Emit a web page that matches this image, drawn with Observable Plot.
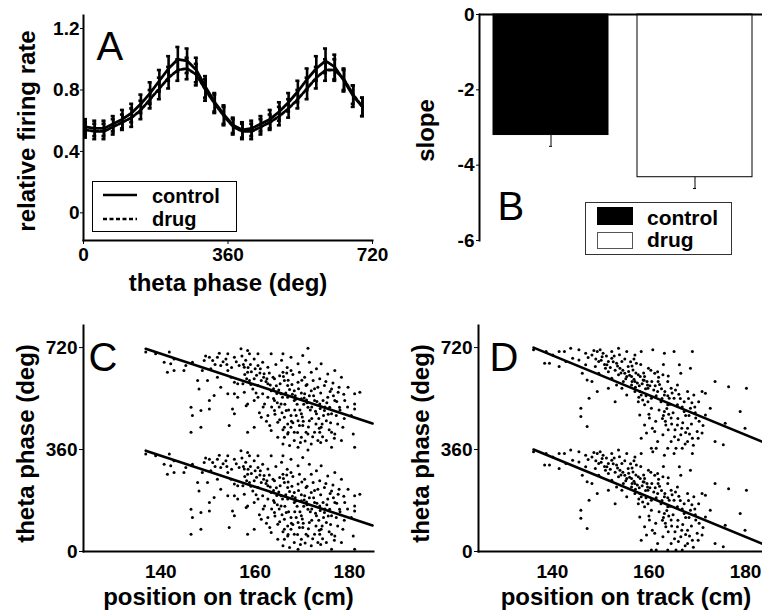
<!DOCTYPE html>
<html><head><meta charset="utf-8">
<script src="https://cdn.jsdelivr.net/npm/d3@7"></script>
<script src="https://cdn.jsdelivr.net/npm/@observablehq/plot@0.6"></script>
<style>
body{margin:0;background:#fff;}
#fig{position:relative;width:762px;height:615px;overflow:hidden;background:#fff;font-family:"Liberation Sans",Arial,sans-serif;color:#000;}
#fig svg.panel{position:absolute;overflow:visible;background:transparent;}
.legend{position:absolute;border:1px solid #000;background:#fff;font-weight:bold;font-size:20px;line-height:20px;}
.legend span{position:absolute;white-space:nowrap;}
.sw{position:absolute;box-sizing:border-box;}
</style></head><body><div id="fig"></div>
<script>
// ---------- Panel A: phase tuning ----------
const phaseBins = [5,28,51,74,97,120,143,166,189,212,235,258,281,304,327,350,373,396,419,442,465,488,511,534,557,580,603,626,649,672,695];
const controlRate = [0.56,0.55,0.55,0.58,0.61,0.65,0.71,0.78,0.86,0.94,1.00,0.99,0.93,0.82,0.72,0.64,0.57,0.54,0.55,0.58,0.61,0.66,0.72,0.79,0.87,0.94,0.99,0.95,0.86,0.76,0.69];
const controlErr  = [0.05,0.05,0.05,0.05,0.06,0.06,0.06,0.07,0.07,0.08,0.08,0.08,0.08,0.07,0.06,0.06,0.05,0.05,0.05,0.05,0.06,0.06,0.06,0.07,0.07,0.08,0.08,0.08,0.07,0.07,0.06];
const drugRate    = [0.54,0.53,0.53,0.56,0.59,0.62,0.67,0.74,0.81,0.88,0.93,0.94,0.90,0.80,0.71,0.63,0.56,0.53,0.53,0.56,0.59,0.63,0.68,0.74,0.81,0.88,0.93,0.93,0.87,0.77,0.69];
const drugErr     = [0.05,0.05,0.05,0.05,0.05,0.06,0.06,0.06,0.07,0.07,0.07,0.07,0.07,0.07,0.06,0.06,0.05,0.05,0.05,0.05,0.05,0.06,0.06,0.06,0.07,0.07,0.07,0.07,0.07,0.06,0.06];
const phaseTicksA = [0,360,720];
const rateTicks = [0,0.4,0.8,1.2];

// ---------- Panel B: slopes ----------
const groups = ["control","drug"];
const slopeMean = [-3.2,-4.32];
const slopeErr = [0.3,0.3];
const slopeTicks = [0,-2,-4,-6];

// ---------- Panels C / D: phase precession (base phase, drawn twice: +0 and +360) ----------
const controlSpikes = [
[136.8,344],[138.9,338],[141.8,344],[140.7,308],[142.1,303],[142.8,279],[141.4,273],[144.9,279],[146.7,308],[147.8,244],[148.1,214],[146.4,149],[146.7,120],[148.5,138],[150.3,143],[146.4,61],[148.5,79],[150.3,173],[149.2,314],[150.3,326],[151.0,314],[152.0,326],[152.7,297],[153.8,320],[154.2,279],[154.9,255],[155.6,238],[155.6,197],[155.2,143],[155.6,126],[154.5,85],[156.3,232],[156.6,297],[157.7,291],[158.4,273],[158.8,338],[159.8,320],[160.6,297],[161.6,308],[162.7,291],[158.8,244],[159.8,250],[157.7,202],[158.4,161],[158.1,155],[161.3,244],[162.7,232],[164.1,250],[165.2,261],[165.9,273],[166.2,244],[163.4,208],[161.6,197],[160.6,185],[159.8,173],[162.0,161],[164.1,173],[165.5,161],[166.9,185],[168.3,208],[166.9,226],[169.1,238],[170.5,255],[171.9,273],[173.0,285],[174.0,303],[175.4,267],[176.9,279],[178.3,255],[179.7,220],[181.1,197],[182.2,202],[181.1,161],[181.1,143],[180.8,55],[181.1,8],[178.6,79],[178.3,32],[176.9,55],[176.2,126],[174.7,138],[173.7,161],[172.6,173],[171.2,149],[169.8,126],[169.1,102],[167.6,79],[166.9,55],[168.3,32],[169.8,43],[171.2,55],[172.6,61],[174.0,79],[175.1,32],[176.2,8],[171.9,20],[173.3,32],[167.6,120],[166.6,138],[166.2,114],[166.9,90],[168.3,173],[169.8,179],[170.5,197],[171.9,208],[173.3,220],[174.7,226],[176.2,214],[177.6,202],[179.0,173],[176.9,173],[175.4,185],[165.5,197],[164.1,138],[162.7,120],[161.3,114],[159.8,79],[158.4,61],[163.4,67],[164.8,43],[165.9,20],[167.3,14],[169.1,8],[164.8,96],[166.2,79],[162.7,185],[160.6,226],[159.5,214],[157.4,232],[156.3,185],[155.6,326],[154.2,338],[157.0,356],[158.4,350],[160.6,338],[163.4,338],[165.9,338],[167.6,326],[170.1,332],[171.2,358],[169.1,303],[171.5,308],[173.7,250],[167.6,279],[169.4,273],[170.8,226],[172.3,244],[174.4,173],[175.8,149],[177.2,120],[177.9,149],[173.0,126],[171.5,102],[170.1,85],[170.8,61],[173.7,61],[175.1,102],[176.2,61],[168.3,61],[166.2,43],[152.0,255],[152.7,220],[154.2,197],[151.3,191],[149.9,244],[148.8,279],[145.3,297],[142.8,320],
[163.0,270],[163.8,255],[164.5,225],[165.0,210],[165.8,185],[166.5,200],[167.0,245],[167.8,230],[168.5,190],[168.9,160],[169.5,140],[170.0,115],[170.3,160],[170.9,175],[171.5,190],[172.0,150],[172.8,135],[173.5,110],[174.2,90],[174.8,150],[175.5,125],[176.0,95],[163.5,150],[164.2,125],[165.2,105],[165.9,70],[167.0,60],[168.0,95],[168.7,120],[169.4,85],[170.6,30],[172.2,45],[173.9,25],[161.0,270],[161.8,255],[162.3,240],[160.0,285],[159.0,300],[158.0,315],[157.2,330],[156.0,310],[155.0,290],[154.0,300],[153.2,310],[152.4,340],[151.5,300],[150.6,285],[149.5,330],[164.4,300],[165.6,315],[166.8,290],[168.0,265],[169.9,245],[171.0,230],[172.6,215],[173.9,200],[175.0,240],[176.5,235],[177.8,220],[178.8,195],
[157.5,300],[158.5,290],[159.2,275],[160.3,262],[161.1,285],[161.9,268],[162.5,250],[163.2,228],[163.9,215],[164.6,198],[165.3,232],[166.0,258],[166.7,270],[167.3,212],[167.9,195],[168.6,178],[169.2,215],[169.8,200],[170.4,182],[171.0,165],[171.7,140],[172.4,190],[173.1,170],[173.8,145],[174.5,120],[175.2,165],[175.9,205],[176.6,190],[177.3,170],[178.0,140],[165.1,150],[165.7,130],[166.3,160],[167.1,140],[167.7,100],[168.4,140],[169.0,60],[169.6,25],[170.2,100],[171.3,80],[172.0,110],[172.9,90],[173.6,75],[174.3,45],[175.7,70],[176.8,40],[177.5,90],[178.9,110],[179.6,150],[180.4,120],[160.9,130],[161.7,150],[162.4,100],[163.1,85],[163.9,180],[164.7,165],[160.2,200],[159.1,230],[158.2,250],[157.8,265]
];
const drugSpikes = [
[136.1,352],[138.7,346],[140.1,334],[138.4,305],[139.4,305],[141.4,346],[142.5,346],[143.8,358],[145.5,352],[146.9,340],[148.2,334],[149.3,346],[149.9,352],[152.3,346],[153.7,358],[155.4,346],[157.1,334],[158.4,346],[160.8,352],[163.2,340],[165.2,346],[169.0,346],[166.3,299],[166.6,269],[168.6,287],[146.9,299],[146.2,269],[147.2,246],[148.2,240],[147.6,181],[145.9,146],[145.9,117],[147.2,81],[149.3,205],[149.6,269],[151.0,287],[151.6,311],[152.3,322],[153.3,305],[154.0,287],[155.0,269],[155.7,293],[156.7,281],[157.8,264],[158.8,246],[159.8,216],[161.2,269],[161.8,275],[162.9,264],[163.9,240],[164.6,216],[165.9,228],[165.2,181],[163.9,158],[163.2,134],[164.6,111],[165.9,87],[167.3,134],[168.0,75],[169.0,40],[170.0,64],[171.0,58],[171.7,122],[170.3,169],[169.3,193],[168.0,205],[171.0,205],[171.7,199],[173.7,240],[176.5,222],[180.2,216],[172.7,146],[173.7,28],[175.4,17],[175.8,93],[178.9,134],[179.9,75],[158.4,193],[159.1,158],[160.1,111],[161.2,64],[161.8,28],[160.5,5],[158.4,40],[158.1,122],[159.1,87],[162.9,52],[164.6,28],[165.6,5],[166.9,5],[163.5,87],[162.5,169],[160.5,181],[156.4,228],[155.4,193],[157.1,205],[154.4,216],[153.3,228],[152.3,252],[151.6,216],[153.0,169],[153.7,264],[154.7,240],[159.1,258],[159.9,287],[156.4,258],[157.1,240],[158.1,205],[161.8,205],[163.2,193],[164.2,181],[165.9,158],[167.3,169],[168.6,146],[169.7,111],[168.0,28],[166.6,52],[163.9,5],[161.5,5],[159.5,58],[160.5,146],[157.8,169],[149.6,311],[150.3,328],[151.3,299],[145.5,316],[144.2,322],[142.8,311],[141.4,293],[148.9,293],[151.6,275],[154.4,311],[155.4,258],[157.4,305],[159.8,169],
[150.8,300],[152.0,290],[153.0,280],[154.2,270],[155.2,250],[156.0,262],[156.9,248],[157.6,235],[158.0,225],[158.6,232],[159.3,215],[159.6,240],[160.2,225],[161.0,210],[161.5,190],[162.2,230],[162.7,180],[163.0,120],[163.4,100],[163.7,145],[164.0,70],[164.4,160],[165.0,130],[165.3,45],[166.0,110],[166.5,180],[167.0,95],[167.6,60],[168.3,120],[168.8,90],[169.5,150],[170.2,40],[158.9,270],[160.4,280],[162.0,255],[163.0,300],[164.0,260],[149.0,320],[150.5,340],[152.8,330],[155.0,320],[156.2,310],
[151.2,330],[152.6,310],[153.5,295],[154.6,280],[155.8,276],[156.5,295],[157.3,270],[158.2,258],[159.0,245],[159.7,228],[160.6,240],[161.3,225],[161.9,240],[162.6,215],[163.3,205],[163.9,190],[164.8,200],[165.5,210],[166.2,195],[166.9,150],[167.6,120],[168.2,180],[168.9,165],[169.6,130],[170.4,100],[171.2,85],[164.1,125],[164.7,90],[165.4,70],[166.1,35],[166.8,75],[167.5,20],[168.4,55],[169.2,15],[162.1,140],[162.8,110],[161.4,100],[160.7,75],[160.0,125],[159.4,190],[158.7,175],[157.9,185],[157.2,220],[156.5,240],[148.6,350],[147.4,325],[150.1,315],[153.9,335],[156.9,320],[158.3,300]
];
const controlFitPos = [136.8,184.9];
const controlFitPhase = [716,452];
const drugFitPos = [136.1,185.8];
const drugFitPhase = [720,371];
const posTicks = [140,160,180];
const phaseTicks = [0,360,720];

// ---------- helpers ----------
const FONT = '"Liberation Sans", Arial, sans-serif';
const baseStyle = `font-family:${FONT};font-size:19px;font-weight:bold;color:#000;background:transparent;overflow:visible;`;
const fig = document.getElementById("fig");
function place(svg, left, top) {
  svg.classList.add("panel");
  svg.style.left = left + "px";
  svg.style.top = top + "px";
  svg.style.maxWidth = "none";
  fig.appendChild(svg);
}
const yTitle = {fontSize: 24, fontWeight: "bold", fill: "black", frameAnchor: "left", rotate: -90, textAnchor: "middle", lineAnchor: "middle"};
const xTitle = {fontSize: 24, fontWeight: "bold", fill: "black", frameAnchor: "bottom", textAnchor: "middle", lineAnchor: "middle"};
const panelLetter = {fontSize: 40, fontWeight: "normal", fill: "black", textAnchor: "start", lineAnchor: "top", frameAnchor: "top-left"};

// ---------- Panel A ----------
const rowsA = phaseBins.map((t, i) => ({theta: t, control: controlRate[i], cErr: controlErr[i], drug: drugRate[i], dErr: drugErr[i]}));
const cap = 5;
function errMarks(key, errKey) {
  return [
    Plot.ruleX(rowsA, {x: "theta", y1: d => d[key] - d[errKey], y2: d => d[key] + d[errKey], strokeWidth: 2.6}),
    Plot.ruleY(rowsA, {y: d => d[key] + d[errKey], x1: d => d.theta - cap, x2: d => d.theta + cap, strokeWidth: 2.6}),
    Plot.ruleY(rowsA, {y: d => d[key] - d[errKey], x1: d => d.theta - cap, x2: d => d.theta + cap, strokeWidth: 2.6})
  ];
}
const plotA = Plot.plot({
  width: 380, height: 300,
  marginLeft: 83, marginRight: 8, marginTop: 15, marginBottom: 60,
  style: baseStyle,
  x: {domain: [0, 720], ticks: phaseTicksA, tickFormat: d => String(d), tickSize: 4, tickPadding: 3, label: null},
  y: {domain: [-0.18, 1.285], ticks: rateTicks, tickFormat: d => d === 0 ? "0" : d.toFixed(1), tickSize: 3, tickPadding: 1, label: null},
  marks: [
    Plot.frame({anchor: "left", strokeWidth: 2}),
    Plot.frame({anchor: "bottom", strokeWidth: 2}),
    ...errMarks("drug", "dErr"),
    ...errMarks("control", "cErr"),
    Plot.line(rowsA, {x: "theta", y: "drug", strokeWidth: 2.8, strokeDasharray: "3,2"}),
    Plot.line(rowsA, {x: "theta", y: "control", strokeWidth: 2.8}),
    Plot.text(["relative firing rate"], {...yTitle, dx: -56, dy: 3}),
    Plot.text(["theta phase (deg)"], {...xTitle, dy: 43}),
    Plot.text(["A"], {...panelLetter, dx: 13, dy: 16})
  ]
});
place(plotA, 0, 0);

// ---------- Panel B ----------
const rowsB = groups.map((g, i) => ({group: g, slope: slopeMean[i], err: slopeErr[i]}));
const plotB = Plot.plot({
  width: 376, height: 280,
  marginLeft: 89, marginRight: 0, marginTop: 14, marginBottom: 40,
  style: baseStyle,
  x: {domain: groups, paddingInner: 0.2, paddingOuter: 0.09, axis: null},
  y: {domain: [-6, 0], ticks: slopeTicks, tickFormat: d => String(d), tickSize: 3, tickPadding: 2, label: null},
  color: {domain: groups, range: ["black", "white"]},
  marks: [
    Plot.barY(rowsB, {x: "group", y: "slope", fill: "group", stroke: "black", strokeWidth: 1}),
    Plot.ruleX(rowsB, {x: "group", y1: "slope", y2: d => d.slope - d.err, strokeWidth: 1}),
    Plot.tickY(rowsB, {x: "group", y: d => d.slope - d.err, insetLeft: 56, insetRight: 56, strokeWidth: 1}),
    Plot.ruleY([0], {strokeWidth: 2}),
    Plot.frame({anchor: "left", strokeWidth: 2}),
    Plot.text(["slope"], {...yTitle, dx: -53, dy: 3}),
    Plot.text(["B"], {...panelLetter, dx: 18, dy: 177})
  ]
});
place(plotB, 390, 0);

// ---------- Panels C and D ----------
function precession(spikes, fitPos, fitPhase, xDomain, letter, letterDx) {
  const fit = fitPos.map((p, i) => ({pos: p, phase: fitPhase[i]}));
  return Plot.plot({
    width: letter === "C" ? 380 : 390, height: 315,
    marginLeft: letter === "C" ? 83 : 88, marginRight: 7, marginTop: 25, marginBottom: 64,
    style: baseStyle,
    x: {domain: xDomain, ticks: posTicks, tickSize: 0, tickPadding: 13, label: null},
    y: {domain: [0, 798], ticks: phaseTicks, tickFormat: d => String(d), tickSize: 4, tickPadding: 2, label: null},
    marks: [
      Plot.dot(spikes, {x: d => d[0], y: d => d[1], r: 1.5, fill: "black", stroke: null}),
      Plot.dot(spikes, {x: d => d[0], y: d => d[1] + 360, r: 1.5, fill: "black", stroke: null}),
      Plot.line(fit, {x: "pos", y: "phase", strokeWidth: 2.6}),
      Plot.line(fit, {x: "pos", y: d => d.phase - 360, strokeWidth: 2.6}),
      Plot.frame({anchor: "left", strokeWidth: 2}),
      Plot.frame({anchor: "bottom", strokeWidth: 2}),
      Plot.text(["theta phase (deg)"], {...yTitle, dx: -57, dy: 5}),
      Plot.text(["position on track (cm)"], {...xTitle, dy: 46}),
      Plot.text([letter], {...panelLetter, dx: letterDx, dy: 17})
    ]
  });
}
place(precession(controlSpikes, controlFitPos, controlFitPhase, [123.6, 185.1], "C", 5), 0, 300);
place(precession(drugSpikes, drugFitPos, drugFitPhase, [124.7, 185.8], "D", 11), 390, 300);

// ---------- Legends ----------
const legA = document.createElement("div");
legA.className = "legend";
legA.style.cssText = "left:92px;top:181px;width:143px;height:49px;";
legA.innerHTML = `<svg width="143" height="49" style="position:absolute;left:0;top:0">
  <line x1="10" x2="44" y1="13" y2="13" stroke="black" stroke-width="2.5"/>
  <line x1="10" x2="44" y1="37" y2="37" stroke="black" stroke-width="2.5" stroke-dasharray="4,2.5"/></svg>
  <span style="left:59px;top:4px">${groups[0]}</span><span style="left:59px;top:27px">${groups[1]}</span>`;
fig.appendChild(legA);

const legB = document.createElement("div");
legB.className = "legend";
legB.style.cssText = "left:585px;top:202px;width:145px;height:51px;font-size:21px;line-height:21px;border-color:#333;";
legB.innerHTML = `<div class="sw" style="left:11px;top:4px;width:36px;height:18px;background:#000"></div>
  <div class="sw" style="left:11px;top:29px;width:36px;height:17px;background:#fff;border:1px solid #555"></div>
  <span style="left:61px;top:4px">${groups[0]}</span><span style="left:61px;top:26px">${groups[1]}</span>`;
fig.appendChild(legB);
</script></body></html>
